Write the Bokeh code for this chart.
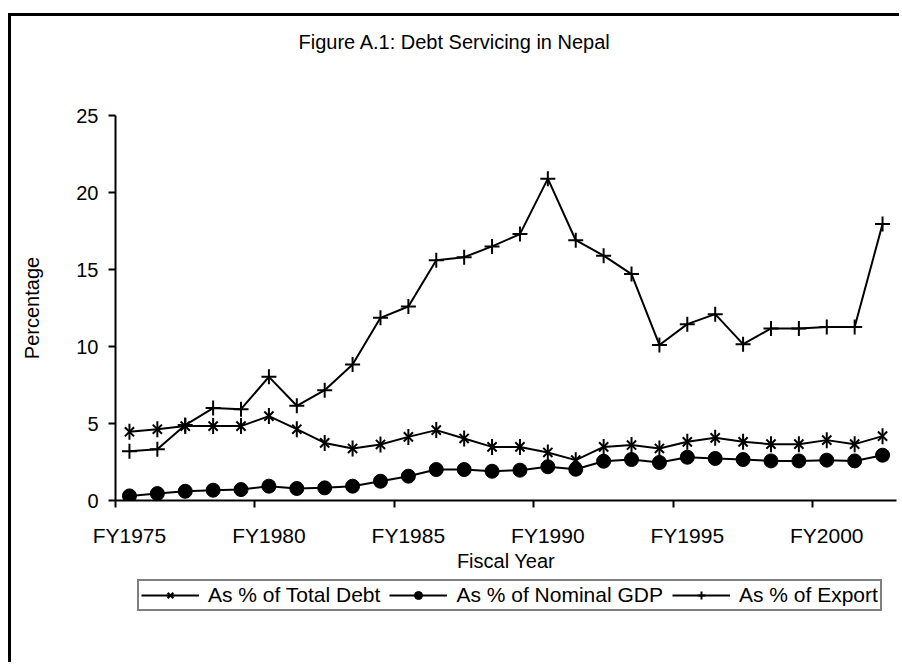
from bokeh.plotting import figure
from bokeh.models import FixedTicker, Legend, LegendItem, LinearAxis
from bokeh.layouts import column
from bokeh.embed import file_html
from bokeh.resources import INLINE

years = ["FY1975", "FY1976", "FY1977", "FY1978", "FY1979", "FY1980", "FY1981",
         "FY1982", "FY1983", "FY1984", "FY1985", "FY1986", "FY1987", "FY1988",
         "FY1989", "FY1990", "FY1991", "FY1992", "FY1993", "FY1994", "FY1995",
         "FY1996", "FY1997", "FY1998", "FY1999", "FY2000", "FY2001", "FY2002"]
total_debt = [4.46, 4.63, 4.83, 4.83, 4.83, 5.48, 4.63, 3.74, 3.38, 3.64, 4.13,
              4.57, 4.03, 3.48, 3.48, 3.12, 2.62, 3.48, 3.60, 3.38, 3.81, 4.07,
              3.81, 3.66, 3.66, 3.92, 3.66, 4.18]
nominal_gdp = [0.30, 0.45, 0.60, 0.67, 0.71, 0.93, 0.78, 0.82, 0.93, 1.25, 1.58,
               2.01, 2.01, 1.90, 1.97, 2.19, 2.03, 2.55, 2.66, 2.47, 2.81, 2.73,
               2.66, 2.57, 2.57, 2.62, 2.57, 2.94]
export = [3.20, 3.33, 4.90, 6.00, 5.93, 8.03, 6.15, 7.16, 8.83, 11.86, 12.60,
          15.60, 15.80, 16.50, 17.30, 20.90, 16.90, 15.90, 14.70, 10.10, 11.45,
          12.10, 10.15, 11.17, 11.17, 11.27, 11.27, 17.95]
series_names = ["As % of Total Debt", "As % of Nominal GDP", "As % of Export"]
x_tick_labels = ["FY1975", "FY1980", "FY1985", "FY1990", "FY1995", "FY2000"]
y_ticks = [0, 5, 10, 15, 20, 25]

FONT = "Liberation Sans"
xs = list(range(len(years)))
label_pos = [years.index(t) for t in x_tick_labels]
boundaries = [i - 0.5 for i in label_pos]

p = figure(frame_width=781, frame_height=385, output_backend="svg",
           toolbar_location=None,
           x_range=(-0.5, len(years) - 0.5), y_range=(0, 25),
           min_border_left=104, min_border_right=3, min_border_top=0,
           min_border_bottom=0, title="Figure A.1: Debt Servicing in Nepal")
p.grid.visible = False
p.outline_line_color = None
p.background_fill_color = "white"
p.border_fill_color = "white"

p.title.align = "left"
p.title.offset = 183
p.title.standoff = 24
p.title.text_font = FONT
p.title.text_font_size = "20px"
p.title.text_font_style = "normal"
p.title.text_color = "black"

# the default axes, taken before any other axis is added
xa = p.below[0]
ya = p.left[0]

# x axis 1: tick marks on category boundaries (no labels)
xa.ticker = FixedTicker(ticks=boundaries, minor_ticks=[])
xa.major_label_overrides = {b: "" for b in boundaries}
xa.major_label_text_font_size = "1px"
xa.major_label_standoff = 0
xa.major_tick_out = 7
xa.major_tick_in = 0
xa.major_tick_line_width = 2
xa.major_tick_line_color = "black"
xa.minor_tick_out = 0
xa.minor_tick_in = 0
xa.axis_line_width = 2
xa.axis_line_color = "black"

# x axis 2: category labels centred on the categories
xl = LinearAxis(ticker=FixedTicker(ticks=label_pos, minor_ticks=[]))
xl.major_label_overrides = {i: t for i, t in zip(label_pos, x_tick_labels)}
xl.axis_line_color = None
xl.major_tick_line_color = None
xl.minor_tick_line_color = None
xl.major_tick_out = 0
xl.major_tick_in = 0
xl.minor_tick_out = 0
xl.minor_tick_in = 0
xl.major_label_standoff = 16
xl.major_label_text_font = FONT
xl.major_label_text_font_size = "21px"
xl.major_label_text_color = "black"
xl.axis_label = "Fiscal Year"
xl.axis_label_text_font = FONT
xl.axis_label_text_font_size = "20px"
xl.axis_label_text_font_style = "normal"
xl.axis_label_text_color = "black"
xl.axis_label_standoff = 0
p.add_layout(xl, "below")

# invisible axis above the plot area: keeps the gap between title and plot
gap = LinearAxis(ticker=FixedTicker(ticks=[-0.5], minor_ticks=[]))
gap.major_label_overrides = {-0.5: ""}
gap.major_label_text_font_size = "1px"
gap.major_label_standoff = 0
gap.major_tick_out = 51
gap.major_tick_in = 0
gap.major_tick_line_color = None
gap.minor_tick_line_color = None
gap.minor_tick_out = 0
gap.minor_tick_in = 0
gap.axis_line_color = None
p.add_layout(gap, "above")

ya.ticker = FixedTicker(ticks=y_ticks, minor_ticks=[])
ya.major_tick_out = 7
ya.major_tick_in = 0
ya.major_tick_line_width = 2
ya.major_tick_line_color = "black"
ya.minor_tick_out = 0
ya.minor_tick_in = 0
ya.axis_line_width = 2
ya.axis_line_color = "black"
ya.major_label_standoff = 10
ya.major_label_text_font = FONT
ya.major_label_text_font_size = "20px"
ya.major_label_text_color = "black"
ya.axis_label = "Percentage"
ya.axis_label_text_font = FONT
ya.axis_label_text_font_size = "20px"
ya.axis_label_text_font_style = "normal"
ya.axis_label_text_color = "black"
ya.axis_label_standoff = 30


def draw_series(fig, x, debt, gdp, exp):
    l1 = fig.line(x, debt, line_color="black", line_width=2)
    m1a = fig.scatter(x, debt, marker="x", size=13, line_color="black", line_width=2)
    m1b = fig.scatter(x, debt, marker="dash", angle=1.5708, size=16,
                      line_color="black", line_width=2)
    l2 = fig.line(x, gdp, line_color="black", line_width=2)
    m2 = fig.scatter(x, gdp, marker="circle", size=14, fill_color="black",
                     line_color="black")
    l3 = fig.line(x, exp, line_color="black", line_width=2)
    m3 = fig.scatter(x, exp, marker="cross", size=15, line_color="black",
                     line_width=2)
    return [[l1, m1a, m1b], [l2, m2], [l3, m3]]


draw_series(p, xs, total_debt, nominal_gdp, export)

# legend strip below the chart (its own canvas so the box is not clipped);
# the same series are drawn there outside its visible range, only the key shows
pl = figure(width=888, height=88, output_backend="svg", toolbar_location=None,
            x_range=(-20, -19), y_range=(0, 25), x_axis_type=None,
            y_axis_type=None, min_border_left=104, min_border_right=3,
            min_border_top=0, min_border_bottom=0)
pl.grid.visible = False
pl.outline_line_color = None
pl.background_fill_color = "white"
pl.border_fill_color = "white"
legend_renderers = draw_series(pl, xs, total_debt, nominal_gdp, export)

legend = Legend(items=[LegendItem(label=n, renderers=r)
                       for n, r in zip(series_names, legend_renderers)],
                orientation="horizontal", location=(22, 51))
legend.border_line_color = "black"
legend.border_line_width = 2
legend.background_fill_color = "white"
legend.background_fill_alpha = 1
legend.label_text_font = FONT
legend.label_text_font_size = "21px"
legend.label_text_color = "black"
legend.glyph_width = 58
legend.glyph_height = 20
legend.label_height = 20
legend.padding = 2
legend.spacing = 9
legend.label_standoff = 9
legend.margin = 0
pl.add_layout(legend)

layout = column(p, pl, spacing=0)
layout.styles = {"border-left": "3px solid black", "border-top": "3px solid black",
                 "margin-left": "8px", "margin-top": "13px",
                 "background-color": "white"}

open("out.html", "w").write(file_html(layout, INLINE))
